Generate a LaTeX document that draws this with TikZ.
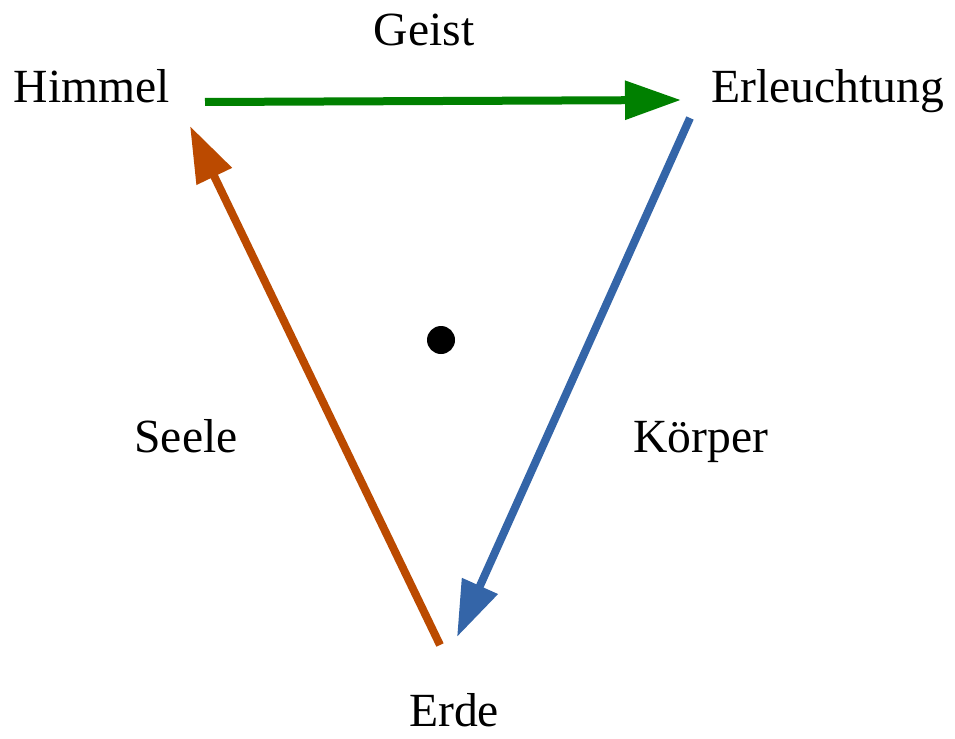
\documentclass[tikz,border=0pt]{standalone}
\usepackage{fontspec}
\setmainfont{Liberation Serif}
\usetikzlibrary{arrows.meta}
\definecolor{cgreen}{RGB}{0,128,0}
\definecolor{cbrown}{RGB}{187,74,0}
\definecolor{cblue}{RGB}{52,101,168}
\begin{document}
\begin{tikzpicture}[x=0.75pt,y=-0.75pt,
  lbl/.style={inner sep=0pt,anchor=base,font=\fontsize{35.7}{40}\selectfont},
  arr/.style={line width=6pt,-{Triangle[length=42pt,width=28pt]}}]
\useasboundingbox (0,0) rectangle (955,738);
\node[lbl] (himmel) at (92,103) {Himmel};
\node[lbl] (geist) at (424,46) {Geist};
\node[lbl] (erl) at (828,103) {Erleuchtung};
\node[lbl] (seele) at (186,452) {Seele};
\node[lbl] (koerper) at (701,452) {Körper};
\node[lbl] (erde) at (454,726) {Erde};
\coordinate (gs) at (205,102);
\coordinate (ge) at (681,100);
\coordinate (bs) at (690,118);
\coordinate (be) at (457,637);
\coordinate (rs) at (440,645);
\coordinate (re) at (190,126);
\draw[arr,cgreen] (gs) -- (ge);
\draw[arr,cblue] (bs) -- (be);
\draw[arr,cbrown] (rs) -- (re);
\fill (441,340) circle[radius=14];
\end{tikzpicture}
\end{document}
